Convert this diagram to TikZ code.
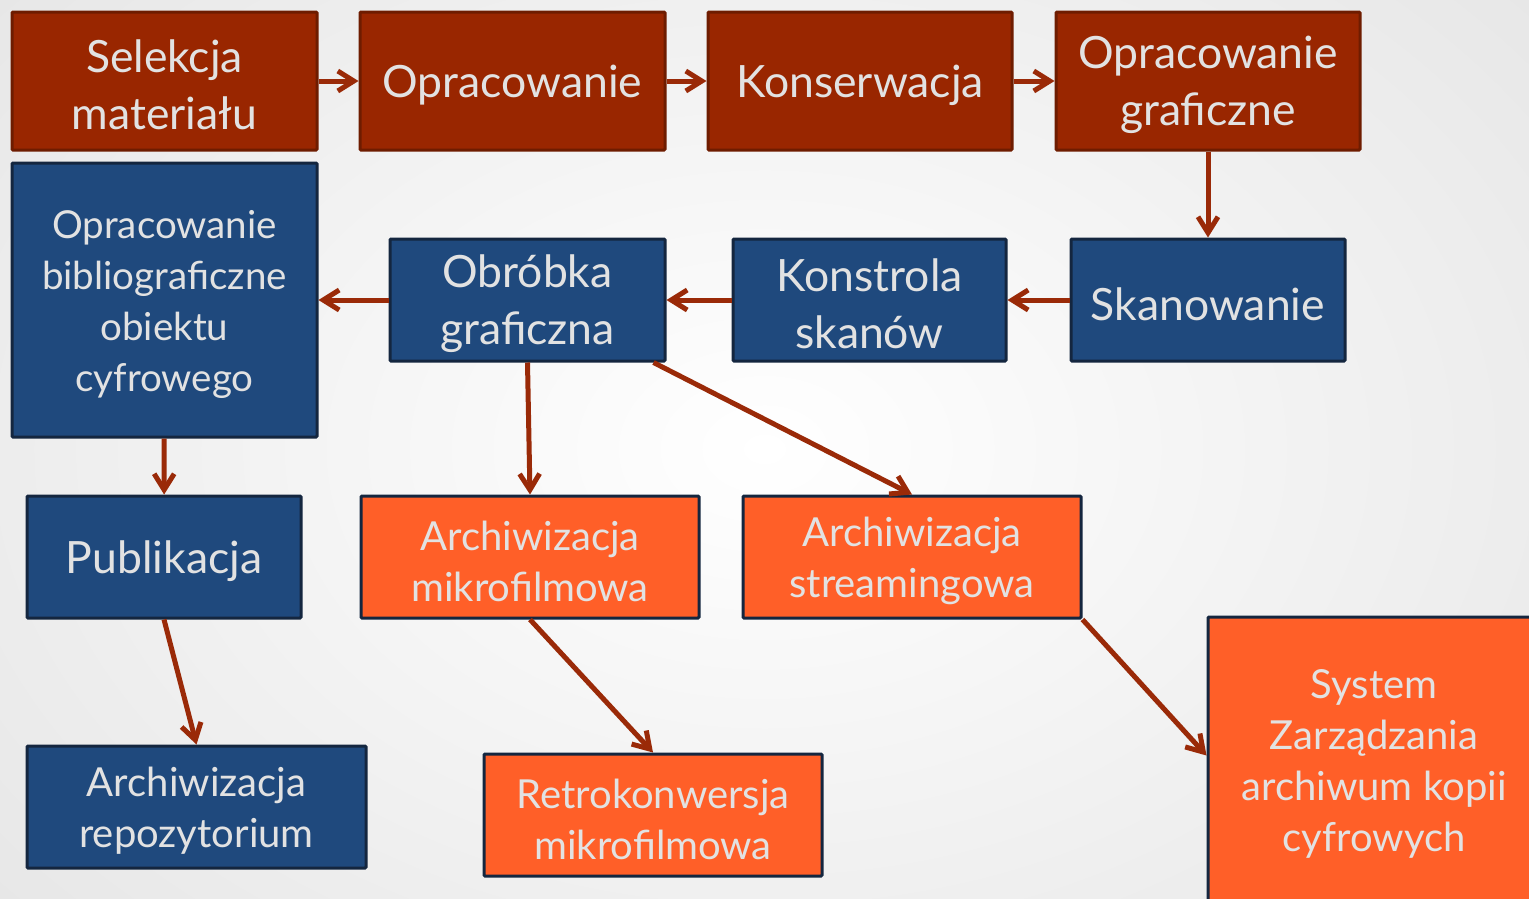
\documentclass[tikz,border=0pt]{standalone}
\usepackage{fontspec}
\setmainfont{Lato}
\usetikzlibrary{arrows.meta,calc}
\definecolor{rbfill}{HTML}{992600}
\definecolor{rbline}{HTML}{6E1C00}
\definecolor{bbfill}{HTML}{1F497D}
\definecolor{bbline}{HTML}{14263F}
\definecolor{obfill}{HTML}{FF5F28}
\definecolor{arr}{HTML}{9A2A08}
\definecolor{txt}{HTML}{E2E2E2}
\begin{document}
\begin{tikzpicture}[x=1pt,y=-1pt,
  box/.style={draw, line width=3pt, rounded corners=1pt, inner sep=0pt},
  redbox/.style={box, fill=rbfill, draw=rbline},
  bluebox/.style={box, fill=bbfill, draw=bbline},
  orbox/.style={box, fill=obfill, draw=bbline},
  tl/.style={align=center, text=txt, inner sep=0pt, yshift=-4pt},
  big/.style={tl, font=\fontsize{44.5}{57}\selectfont},
  mid/.style={tl, font=\fontsize{40}{51}\selectfont},
  small/.style={tl, font=\fontsize{38.5}{51}\selectfont},
  conn/.style={draw=arr, line width=5pt, -{Straight Barb[length=16pt,width=20pt,line width=5pt]}}
]
\useasboundingbox (0,0) rectangle (1529,898);
\clip (0,0) rectangle (1529,898);
\shade[inner color=white, outer color=black!10] (-300,-300) rectangle (1829,1198);

\node[redbox, minimum width=305pt, minimum height=138pt, label={[big]center:{Selekcja\\materiału}}] (n1) at (164.5,81) {};
\node[redbox, minimum width=305pt, minimum height=138pt, label={[big]center:{Opracowanie}}] (n2) at (512.5,81) {};
\node[redbox, minimum width=304pt, minimum height=138pt, label={[big]center:{Konserwacja}}] (n3) at (860,81) {};
\node[redbox, minimum width=304pt, minimum height=138pt, label={[big]center:{Opracowanie\\graficzne}}] (n4) at (1208,81) {};

\node[bluebox, minimum width=305pt, minimum height=274pt, label={[small]center:{Opracowanie\\bibliograficzne\\obiektu\\cyfrowego}}] (n5) at (164.5,300) {};
\node[bluebox, minimum width=275pt, minimum height=122pt, label={[big]center:{Obróbka\\graficzna}}] (n6) at (527.5,300) {};
\node[bluebox, minimum width=273pt, minimum height=122pt, label={[big]center:{Konstrola\\skanów}}] (n7) at (869.5,300) {};
\node[bluebox, minimum width=274pt, minimum height=122pt, label={[big]center:{Skanowanie}}] (n8) at (1208,300) {};

\node[bluebox, minimum width=274pt, minimum height=122pt, label={[big]center:{Publikacja}}] (n9) at (164,557) {};
\node[orbox, minimum width=338pt, minimum height=122pt, label={[mid]center:{Archiwizacja\\mikrofilmowa}}] (n10) at (530,557) {};
\node[orbox, minimum width=338pt, minimum height=122pt, label={[mid]center:{Archiwizacja\\streamingowa}}] (n11) at (912,557) {};

\node[bluebox, minimum width=339pt, minimum height=122pt, label={[mid]center:{Archiwizacja\\repozytorium}}] (n12) at (196.5,807) {};
\node[orbox, minimum width=338pt, minimum height=122pt, label={[mid]center:{Retrokonwersja\\mikrofilmowa}}] (n13) at (653,815) {};
\node[orbox, minimum width=332pt, minimum height=286pt, label={[mid]center:{System\\Zarządzania\\archiwum kopii\\cyfrowych}}] (n14) at (1374,760) {};

\draw[conn] (n1) -- (n2);
\draw[conn] (n2) -- (n3);
\draw[conn] (n3) -- (n4);
\draw[conn] (n4) -- (n8);
\draw[conn] (n8) -- (n7);
\draw[conn] (n7) -- (n6);
\draw[conn] (n6) -- (n5);
\draw[conn] (n5) -- (n9);
\draw[conn] (n9.south) -- (n12.north);
\draw[conn] (n6.south) -- (n10.north);
\draw[conn] ($(n6.south east)+(-13,0)$) -- (n11.north);
\draw[conn] (n10.south) -- (n13.north);
\draw[conn] (n11.south east) -- ($(n14.north west)+(0,140)$);
\end{tikzpicture}
\end{document}
